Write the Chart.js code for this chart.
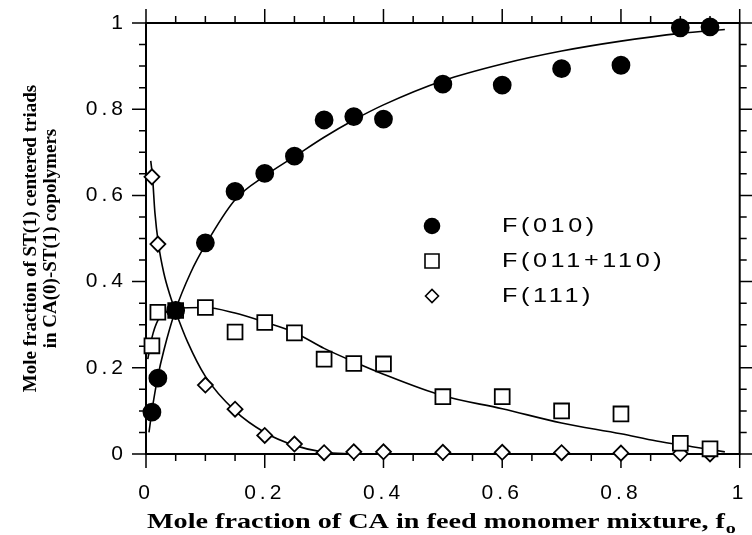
<!doctype html>
<html lang="en">
<head>
<meta charset="utf-8">
<title>ST(1) centered triads in CA(0)-ST(1) copolymers</title>
<script src="https://cdn.jsdelivr.net/npm/chart.js@4.4.1/dist/chart.umd.min.js"></script>
<style>
  html, body { margin: 0; padding: 0; background: #fff; }
  #wrap { width: 752px; height: 535px; }
</style>
</head>
<body>
<div id="wrap"><canvas id="chart" width="752" height="535"></canvas></div>
<script>
// measured triad fractions vs. mole fraction of CA in the feed
const feedFractions = [0.01, 0.02, 0.05, 0.1, 0.15, 0.2, 0.25, 0.3, 0.35, 0.4, 0.5, 0.6, 0.7, 0.8, 0.9, 0.95];
const f010 = [0.097, 0.176, 0.333, 0.49, 0.609, 0.651, 0.691, 0.775, 0.783, 0.777, 0.858, 0.856, 0.894, 0.902, 0.989, 0.991];
const f011 = [0.251, 0.329, 0.333, 0.340, 0.283, 0.305, 0.281, 0.220, 0.210, 0.209, 0.133, 0.133, 0.100, 0.093, 0.025, 0.012];
const f111 = [0.643, 0.487, 0.335, 0.160, 0.104, 0.043, 0.023, 0.003, 0.005, 0.005, 0.004, 0.004, 0.003, 0.002, 0.001, 0.000];

// fitted (theoretical) curves
const fit010X = [0.005, 0.01, 0.02, 0.03, 0.05, 0.075, 0.1, 0.15, 0.2, 0.25, 0.3, 0.35, 0.4, 0.5, 0.6, 0.7, 0.8, 0.9, 0.975];
const fit010Y = [0.05, 0.10, 0.18, 0.24, 0.335, 0.42, 0.485, 0.59, 0.645, 0.69, 0.735, 0.775, 0.81, 0.866, 0.905, 0.935, 0.958, 0.976, 0.985];
const fit011X = [0.003, 0.01, 0.02, 0.035, 0.05, 0.1, 0.15, 0.2, 0.25, 0.3, 0.35, 0.4, 0.5, 0.6, 0.7, 0.8, 0.86, 0.92, 0.975];
const fit011Y = [0.22, 0.27, 0.31, 0.33, 0.338, 0.34, 0.327, 0.306, 0.282, 0.245, 0.214, 0.185, 0.135, 0.105, 0.072, 0.047, 0.03, 0.017, 0.005];
const fit111X = [0.008, 0.011, 0.015, 0.021, 0.03, 0.04, 0.05, 0.07, 0.1, 0.15, 0.2, 0.25, 0.3, 0.35];
const fit111Y = [0.68, 0.643, 0.56, 0.487, 0.42, 0.37, 0.33, 0.26, 0.18, 0.1, 0.05, 0.02, 0.004, 0.0];

const seriesLabels = ['F(010)', 'F(011+110)', 'F(111)'];
const axisTicks = [0, 0.2, 0.4, 0.6, 0.8, 1];
const xTitle = 'Mole fraction of CA in feed monomer mixture, f';
const xTitleSub = 'o';
const yTitle = ['Mole fraction of ST(1) centered triads', 'in CA(0)-ST(1) copolymers'];

function pts(xs, ys) {
    return xs.map((x, i) => ({ x: x, y: ys[i] }));
}

function markerSet(label, ys, style, radius, fill) {
    return {
        label: label,
        data: pts(feedFractions, ys),
        showLine: false,
        pointStyle: style,
        pointRadius: radius,
        pointBackgroundColor: fill,
        pointBorderColor: '#000',
        pointBorderWidth: 1.8,
        clip: false
    };
}

function curveSet(xs, ys) {
    return {
        label: 'fit',
        data: pts(xs, ys),
        showLine: true,
        pointRadius: 0,
        borderColor: '#000',
        borderWidth: 1.6,
        cubicInterpolationMode: 'monotone',
        fill: false,
        clip: false
    };
}

const serif = '"Liberation Serif", "Times New Roman", serif';
const sans = '"Liberation Sans", Arial, sans-serif';

// box with outward ticks on all four sides, inset legend, x title
const frameTicks = {
    id: 'frameTicks',
    beforeDatasetsDraw(chart) {
        const { ctx, chartArea: a, scales: { x, y } } = chart;
        ctx.save();
        ctx.strokeStyle = '#000';
        ctx.lineWidth = 2;
        ctx.strokeRect(a.left, a.top, a.right - a.left, a.bottom - a.top);
        ctx.lineWidth = 1.5;
        ctx.beginPath();
        for (let i = 0; i <= 20; i++) {
            const v = i * 0.05;
            const len = i % 4 === 0 ? 14 : 7;
            const px = x.getPixelForValue(v);
            const py = y.getPixelForValue(v);
            ctx.moveTo(px, a.bottom); ctx.lineTo(px, a.bottom + len);
            ctx.moveTo(px, a.top); ctx.lineTo(px, a.top - len);
            ctx.moveTo(a.left, py); ctx.lineTo(a.left - len, py);
            ctx.moveTo(a.right, py); ctx.lineTo(a.right + len, py);
        }
        ctx.stroke();
        ctx.restore();
    },
    afterDatasetsDraw(chart) {
        // tick labels are drawn after this (ticks.z = 1), spread them out
        chart.ctx.letterSpacing = '4px';
    },
    afterDraw(chart) {
        const ctx = chart.ctx;
        const a = chart.chartArea;
        ctx.letterSpacing = '0px';
        ctx.save();
        const mx = 432, tx = 502;
        const rows = [226, 261, 296];
        ctx.strokeStyle = '#000';
        ctx.lineWidth = 1.6;
        ctx.fillStyle = '#000';
        ctx.beginPath();
        ctx.arc(mx, rows[0], 8.3, 0, Math.PI * 2);
        ctx.fill();
        ctx.fillStyle = '#fff';
        ctx.beginPath();
        ctx.rect(mx - 7, rows[1] - 7, 14, 14);
        ctx.fill();
        ctx.stroke();
        ctx.beginPath();
        ctx.moveTo(mx - 6.5, rows[2]);
        ctx.lineTo(mx, rows[2] - 6.5);
        ctx.lineTo(mx + 6.5, rows[2]);
        ctx.lineTo(mx, rows[2] + 6.5);
        ctx.closePath();
        ctx.fill();
        ctx.stroke();

        // legend text, a little widened and spaced like the scanned original
        ctx.fillStyle = '#000';
        ctx.font = '21px ' + sans;
        ctx.textBaseline = 'middle';
        ctx.letterSpacing = '3px';
        seriesLabels.forEach((t, i) => {
            ctx.save();
            ctx.translate(tx, rows[i]);
            ctx.scale(1.2, 1);
            ctx.fillText(t, 0, 0);
            ctx.restore();
        });
        ctx.letterSpacing = '0px';

        // x axis title with subscript
        ctx.font = 'bold 21px ' + serif;
        ctx.textBaseline = 'alphabetic';
        const w = ctx.measureText(xTitle).width;
        const sx = (724 - a.left) / w;
        ctx.save();
        ctx.translate(a.left + 1, 528);
        ctx.scale(sx, 1);
        ctx.fillText(xTitle, 0, 0);
        ctx.font = 'bold 15px ' + serif;
        ctx.fillText(xTitleSub, w + 0.5, 5);
        ctx.restore();
        ctx.restore();
    }
};

const tickFont = { family: sans, size: 21 };

new Chart(document.getElementById('chart'), {
    type: 'scatter',
    data: {
        datasets: [
            markerSet(seriesLabels[0], f010, 'circle', 8.5, '#000'),
            markerSet(seriesLabels[1], f011, 'rect', 10.5, '#fff'),
            markerSet(seriesLabels[2], f111, 'rectRot', 7.5, '#fff'),
            curveSet(fit010X, fit010Y),
            curveSet(fit011X, fit011Y),
            curveSet(fit111X, fit111Y)
        ]
    },
    options: {
        responsive: false,
        animation: false,
        events: [],
        layout: { padding: { top: 23, right: 9, left: 0, bottom: 0 } },
        plugins: {
            legend: { display: false },
            tooltip: { enabled: false }
        },
        scales: {
            x: {
                type: 'linear',
                min: 0,
                max: 1,
                afterBuildTicks: (scale) => { scale.ticks = axisTicks.map(v => ({ value: v })); },
                afterFit: (scale) => {
                    scale.height = 81;
                    scale.paddingLeft = 0;
                    scale.paddingRight = 0;
                },
                grid: { display: false, drawTicks: false },
                border: { display: false },
                ticks: { color: '#000', font: tickFont, padding: 27, maxRotation: 0, z: 1, callback: (v) => String(v) },
                title: { display: false }
            },
            y: {
                type: 'linear',
                min: 0,
                max: 1,
                afterBuildTicks: (scale) => { scale.ticks = axisTicks.map(v => ({ value: v })); },
                afterFit: (scale) => {
                    scale.width = 146;
                    scale.paddingTop = 0;
                    scale.paddingBottom = 0;
                },
                grid: { display: false, drawTicks: false },
                border: { display: false },
                ticks: { color: '#000', font: tickFont, padding: 19, z: 1, callback: (v) => String(v) },
                title: {
                    display: true,
                    text: yTitle,
                    color: '#000',
                    font: { family: serif, size: 19, weight: 'bold', lineHeight: 1.05 },
                    padding: { top: 21, bottom: 0 }
                }
            }
        }
    },
    plugins: [frameTicks]
});
</script>
</body>
</html>
